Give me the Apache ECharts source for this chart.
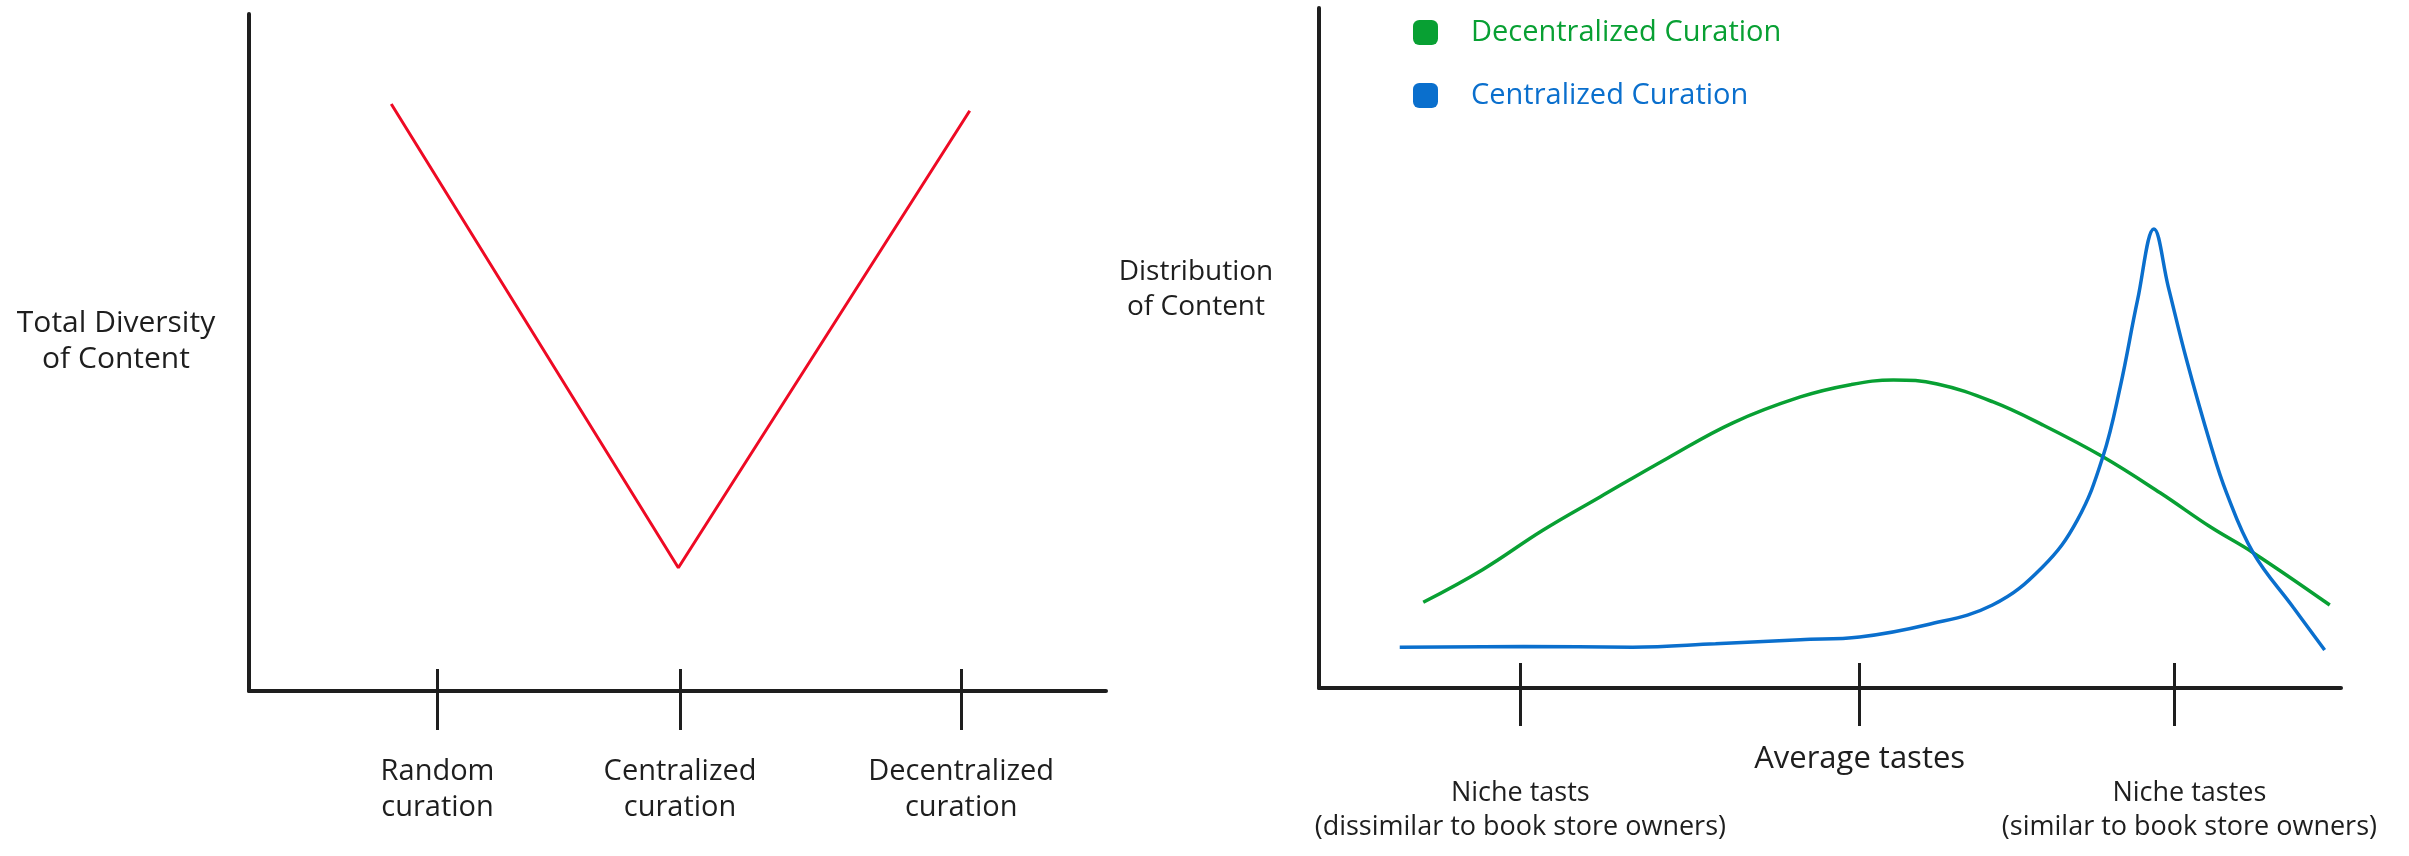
<!DOCTYPE html>
<html>
<head>
<meta charset="utf-8">
<script src="https://cdn.jsdelivr.net/npm/echarts@6/dist/echarts.min.js"></script>
<style>
html,body{margin:0;padding:0;background:#fff;}
#c{width:2409px;height:856px;}
</style>
</head>
<body>
<div id="c"></div>
<script>
// ---- Left chart data ----
const leftTickLabels = ['Random\ncuration', 'Centralized\ncuration', 'Decentralized\ncuration'];
const leftTickValues = [22, 50.3, 83.1];
const diversityX = [16.6, 50.1, 84.1];
const diversityY = [86.7, 18.2, 85.7];
const leftYLabel = 'Total Diversity\nof Content';

// ---- Right chart data ----
const rightTickLabels = ['Niche tasts\n(dissimilar to book store owners)', 'Average tastes', 'Niche tastes\n(similar to book store owners)'];
const rightTickValues = [19.7, 52.9, 83.7];
const rightYLabel = 'Distribution\nof Content';
const decentralX = [10.2, 16.0, 21.9, 27.5, 34.1, 40.5, 47.1, 52.0, 56.2, 60.5, 65.9, 70.8, 76.7, 82.3, 87.2, 91.4, 98.9];
const decentralY = [12.6, 17.4, 23.2, 28.1, 33.8, 39.0, 42.8, 44.6, 45.3, 44.7, 42.1, 38.7, 34.0, 28.7, 23.7, 19.9, 12.2];
const centralX = [7.9, 20.0, 30.7, 38.8, 47.1, 52.9, 59.5, 65.9, 70.8, 74.2, 76.7, 78.4, 80.1, 81.7, 83.1, 84.9, 87.2, 88.8, 91.4, 95.3, 98.4];
const centralY = [6.0, 6.1, 6.0, 6.5, 7.1, 7.5, 9.3, 12.2, 17.8, 24.7, 34.0, 44.3, 57.1, 67.5, 59.0, 48.2, 36.0, 28.7, 19.9, 11.9, 5.6];

const INK = '#1e1e1e';
const RED = '#ee0a24';
const GREEN = '#08a033';
const BLUE = '#0a6fcd';
const FONT = '"Open Sans", "Noto Sans", sans-serif';

function zip(xs, ys) { return xs.map((x, i) => [x, ys[i]]); }
function nearestIndex(values, v) {
  let best = 0, d = Infinity;
  values.forEach((t, i) => { const dd = Math.abs(t - v); if (dd < d) { d = dd; best = i; } });
  return best;
}

const chart = echarts.init(document.getElementById('c'), null, { renderer: 'canvas' });

function mainX(gridIndex, ticks, margin, tickLen, formatter, labelStyle) {
  return {
    type: 'value', gridIndex, min: 0, max: 100, position: 'bottom',
    axisLine: { show: true, lineStyle: { color: INK, width: 4 } },
    axisTick: { show: true, inside: false, length: tickLen, customValues: ticks, lineStyle: { color: INK, width: 3 } },
    axisLabel: Object.assign({
      show: true, customValues: ticks, margin, formatter,
      color: INK, fontFamily: FONT, align: 'center', verticalAlign: 'top'
    }, labelStyle),
    splitLine: { show: false }
  };
}
function innerX(gridIndex, ticks, tickLen) {
  return {
    type: 'value', gridIndex, min: 0, max: 100, position: 'bottom',
    axisLine: { show: false },
    axisTick: { show: true, inside: true, length: tickLen, customValues: ticks, lineStyle: { color: INK, width: 3 } },
    axisLabel: { show: false },
    splitLine: { show: false }
  };
}
function yAx(gridIndex) {
  return {
    type: 'value', gridIndex, min: 0, max: 100,
    axisLine: { show: true, lineStyle: { color: INK, width: 4 } },
    axisTick: { show: false }, axisLabel: { show: false }, splitLine: { show: false }
  };
}

chart.setOption({
  backgroundColor: '#ffffff',
  animation: false,
  title: [
    { text: leftYLabel, left: 116, top: 305, textAlign: 'center', padding: 0,
      textStyle: { color: INK, fontFamily: FONT, fontWeight: 'normal', fontSize: 30, lineHeight: 36 } },
    { text: rightYLabel, left: 1196, top: 255, textAlign: 'center', padding: 0,
      textStyle: { color: INK, fontFamily: FONT, fontWeight: 'normal', fontSize: 28, lineHeight: 35 } }
  ],
  grid: [
    { left: 249, right: 1303, top: 14, bottom: 165 },
    { left: 1319, right: 68, top: 8, bottom: 168 }
  ],
  legend: {
    orient: 'vertical', left: 1408, top: 13,
    itemWidth: 25, itemHeight: 25, itemGap: 34, icon: 'roundRect',
    data: [
      { name: 'Decentralized Curation', textStyle: { color: GREEN } },
      { name: 'Centralized Curation', textStyle: { color: BLUE } }
    ],
    textStyle: { fontFamily: FONT, fontSize: 29, padding: [0, 0, 0, 28] }
  },
  xAxis: [
    mainX(0, leftTickValues, 63, 39,
      v => leftTickLabels[nearestIndex(leftTickValues, v)],
      { fontSize: 29, lineHeight: 36 }),
    innerX(0, leftTickValues, 22),
    mainX(1, rightTickValues, 54, 38,
      v => {
        const i = nearestIndex(rightTickValues, v);
        const t = rightTickLabels[i];
        if (i === 1) return '{avg|' + t + '}';
        const lines = t.split('\n').map(s => '{' + (i === 2 ? 'nr' : 'nl') + '|' + s + '}');
        return '{gap|}\n' + lines.join('\n');
      },
      {
        lineHeight: 34,
        rich: {
          avg: { fontFamily: FONT, fontSize: 31, lineHeight: 34, color: INK },
          gap: { fontSize: 27, lineHeight: 34 },
          nl: { fontFamily: FONT, fontSize: 27, lineHeight: 34, color: INK, align: 'center' },
          nr: { fontFamily: FONT, fontSize: 27, lineHeight: 34, color: INK, align: 'center', padding: [0, 0, 0, 30] }
        }
      }),
    innerX(1, rightTickValues, 25)
  ],
  yAxis: [ yAx(0), yAx(1) ],
  series: [
    {
      name: 'Total Diversity', type: 'line', xAxisIndex: 0, yAxisIndex: 0,
      data: zip(diversityX, diversityY), showSymbol: false, smooth: false,
      lineStyle: { color: RED, width: 3 }, itemStyle: { color: RED }
    },
    {
      name: 'Decentralized Curation', type: 'line', xAxisIndex: 2, yAxisIndex: 1,
      data: zip(decentralX, decentralY), showSymbol: false, smooth: 0.4,
      lineStyle: { color: GREEN, width: 3.5 }, itemStyle: { color: GREEN }
    },
    {
      name: 'Centralized Curation', type: 'line', xAxisIndex: 2, yAxisIndex: 1,
      data: zip(centralX, centralY), showSymbol: false, smooth: 0.4,
      lineStyle: { color: BLUE, width: 3.5 }, itemStyle: { color: BLUE }
    }
  ]
});
</script>
</body>
</html>
